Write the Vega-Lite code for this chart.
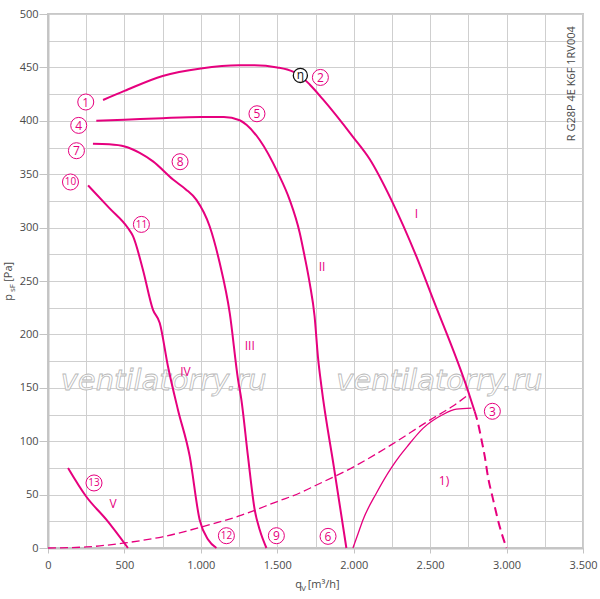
{
  "$schema": "https://vega.github.io/schema/vega-lite/v6.json",
  "width": 535,
  "height": 534,
  "autosize": {"type": "none"},
  "padding": {"left": 48, "top": 14, "right": 17, "bottom": 51},
  "background": "white",
  "config": {
    "view": {"stroke": "#c8c8c8", "strokeWidth": 2},
    "font": "Open Sans"
  },
  "datasets": {
    "curves": [
      {"c": "I", "q": 360, "p": 419.5}, {"c": "I", "q": 500, "p": 428}, {"c": "I", "q": 750, "p": 442},
      {"c": "I", "q": 1000, "p": 449}, {"c": "I", "q": 1250, "p": 452}, {"c": "I", "q": 1350, "p": 452},
      {"c": "I", "q": 1500, "p": 450}, {"c": "I", "q": 1603, "p": 446}, {"c": "I", "q": 1660, "p": 441},
      {"c": "I", "q": 1712, "p": 434}, {"c": "I", "q": 1799, "p": 420}, {"c": "I", "q": 1995, "p": 385},
      {"c": "I", "q": 2105, "p": 364}, {"c": "I", "q": 2246, "p": 326}, {"c": "I", "q": 2410, "p": 273},
      {"c": "I", "q": 2519, "p": 233}, {"c": "I", "q": 2748, "p": 147}, {"c": "I", "q": 2791, "p": 128},
      {"c": "Id", "q": 2791, "p": 128}, {"c": "Id", "q": 2813, "p": 117}, {"c": "Id", "q": 2835, "p": 102},
      {"c": "Id", "q": 2857, "p": 86}, {"c": "Id", "q": 2878, "p": 67}, {"c": "Id", "q": 2911, "p": 46},
      {"c": "Id", "q": 2955, "p": 20}, {"c": "Id", "q": 3000, "p": 0},
      {"c": "II", "q": 316, "p": 400}, {"c": "II", "q": 500, "p": 401}, {"c": "II", "q": 750, "p": 402.5},
      {"c": "II", "q": 1000, "p": 403.5}, {"c": "II", "q": 1150, "p": 403.5}, {"c": "II", "q": 1254, "p": 400.5},
      {"c": "II", "q": 1300, "p": 396}, {"c": "II", "q": 1385, "p": 382}, {"c": "II", "q": 1505, "p": 351},
      {"c": "II", "q": 1581, "p": 326}, {"c": "II", "q": 1647, "p": 295}, {"c": "II", "q": 1679, "p": 273},
      {"c": "II", "q": 1712, "p": 248}, {"c": "II", "q": 1744, "p": 217}, {"c": "II", "q": 1766, "p": 179},
      {"c": "II", "q": 1789, "p": 151}, {"c": "II", "q": 1870, "p": 76}, {"c": "II", "q": 1952, "p": 0},
      {"c": "III", "q": 294, "p": 378.5}, {"c": "III", "q": 400, "p": 378}, {"c": "III", "q": 502, "p": 376},
      {"c": "III", "q": 600, "p": 370}, {"c": "III", "q": 687, "p": 362}, {"c": "III", "q": 818, "p": 345},
      {"c": "III", "q": 900, "p": 336}, {"c": "III", "q": 971, "p": 326}, {"c": "III", "q": 1058, "p": 301},
      {"c": "III", "q": 1123, "p": 267}, {"c": "III", "q": 1189, "p": 220}, {"c": "III", "q": 1243, "p": 158},
      {"c": "III", "q": 1265, "p": 139}, {"c": "III", "q": 1308, "p": 86}, {"c": "III", "q": 1352, "p": 36},
      {"c": "III", "q": 1385, "p": 17}, {"c": "III", "q": 1429, "p": 0},
      {"c": "IV", "q": 262, "p": 339.5}, {"c": "IV", "q": 400, "p": 318.5}, {"c": "IV", "q": 523, "p": 299.6},
      {"c": "IV", "q": 556, "p": 292}, {"c": "IV", "q": 621, "p": 260.6}, {"c": "IV", "q": 687, "p": 223},
      {"c": "IV", "q": 731, "p": 210.7}, {"c": "IV", "q": 785, "p": 170}, {"c": "IV", "q": 850, "p": 129.5},
      {"c": "IV", "q": 927, "p": 86}, {"c": "IV", "q": 992, "p": 26.5}, {"c": "IV", "q": 1047, "p": 8},
      {"c": "IV", "q": 1102, "p": 0},
      {"c": "V", "q": 131, "p": 75}, {"c": "V", "q": 251, "p": 48}, {"c": "V", "q": 382, "p": 26.5},
      {"c": "V", "q": 523, "p": 0},
      {"c": "sys", "q": 0, "p": 0}, {"c": "sys", "q": 250, "p": 1}, {"c": "sys", "q": 500, "p": 4.7},
      {"c": "sys", "q": 750, "p": 10.5}, {"c": "sys", "q": 1000, "p": 19.5}, {"c": "sys", "q": 1250, "p": 30},
      {"c": "sys", "q": 1500, "p": 43.5}, {"c": "sys", "q": 1647, "p": 51.5}, {"c": "sys", "q": 1750, "p": 58.5},
      {"c": "sys", "q": 2000, "p": 76}, {"c": "sys", "q": 2250, "p": 97}, {"c": "sys", "q": 2500, "p": 120},
      {"c": "sys", "q": 2650, "p": 133}, {"c": "sys", "q": 2737, "p": 142},
      {"c": "r1", "q": 1995, "p": 0}, {"c": "r1", "q": 2030, "p": 14}, {"c": "r1", "q": 2061, "p": 26.5},
      {"c": "r1", "q": 2149, "p": 51.5}, {"c": "r1", "q": 2246, "p": 75}, {"c": "r1", "q": 2300, "p": 86},
      {"c": "r1", "q": 2350, "p": 95}, {"c": "r1", "q": 2453, "p": 112}, {"c": "r1", "q": 2584, "p": 125},
      {"c": "r1", "q": 2672, "p": 130}, {"c": "r1", "q": 2770, "p": 131}
    ],
    "circled": [
      {"t": "1", "q": 247, "p": 417.6}, {"t": "2", "q": 1782, "p": 440.6}, {"t": "3", "q": 2907, "p": 128},
      {"t": "4", "q": 201, "p": 395.7}, {"t": "5", "q": 1367, "p": 406.6}, {"t": "6", "q": 1832, "p": 10.9},
      {"t": "7", "q": 186, "p": 372}, {"t": "8", "q": 864, "p": 361.7}, {"t": "9", "q": 1494, "p": 11.5},
      {"t": "10", "q": 147, "p": 342.7}, {"t": "11", "q": 611, "p": 303}, {"t": "12", "q": 1167, "p": 11.5},
      {"t": "13", "q": 301, "p": 60.9}
    ],
    "eta": [{"t": "η", "q": 1651, "p": 442.5}],
    "roman": [
      {"t": "I", "q": 2410, "p": 313}, {"t": "II", "q": 1793, "p": 262.7}, {"t": "III", "q": 1320, "p": 188.8},
      {"t": "IV", "q": 899, "p": 165}, {"t": "V", "q": 425, "p": 41.5}, {"t": "1)", "q": 2591, "p": 63}
    ],
    "wm": [
      {"t": "ventilatorry.ru", "q": 757, "p": 148},
      {"t": "ventilatorry.ru", "q": 2560, "p": 148}
    ],
    "model": [{"t": "R G28P 4E K6F 1RV004", "q": 3426, "p": 434.7}],
    "xtitle": [{"t": "q", "q": 1618, "p": -37.6}, {"t": "[m³/h]", "q": 1699, "p": -37.6}],
    "xsub": [{"t": "V", "q": 1657, "p": -40.5}],
    "ytitle": [{"t": "p", "q": -234, "p": 231.5}, {"t": "[Pa]", "q": -234, "p": 249.3}],
    "ysub": [{"t": "sF", "q": -218, "p": 239.6}]
  },
  "encoding": {
    "x": {
      "field": "q",
      "type": "quantitative",
      "scale": {"domain": [0, 3500], "nice": false, "zero": false},
      "axis": {
        "title": null,
        "values": [0, 250, 500, 750, 1000, 1250, 1500, 1750, 2000, 2250, 2500, 2750, 3000, 3250, 3500],
        "labelExpr": "datum.value % 500 == 0 ? replace(format(datum.value, ','), ',', '.') : ''",
        "grid": true,
        "gridColor": "#cfcfcf",
        "gridWidth": 1,
        "domainColor": "#c4c4c4",
        "domainWidth": 2,
        "tickColor": "#c4c4c4",
        "tickSize": 5,
        "tickOpacity": {"condition": {"test": "datum.value % 500 == 0", "value": 1}, "value": 0},
        "labelFont": "Open Sans",
        "labelFontSize": 11,
        "labelColor": "#4a4a4a",
        "labelPadding": 6,
        "labelFlush": false,
        "labelOverlap": false
      }
    },
    "y": {
      "field": "p",
      "type": "quantitative",
      "scale": {"domain": [0, 500], "nice": false, "zero": false},
      "axis": {
        "title": null,
        "values": [0, 25, 50, 75, 100, 125, 150, 175, 200, 225, 250, 275, 300, 325, 350, 375, 400, 425, 450, 475, 500],
        "labelExpr": "datum.value % 50 == 0 ? datum.label : ''",
        "grid": true,
        "gridColor": "#cfcfcf",
        "gridWidth": 1,
        "domainColor": "#c4c4c4",
        "domainWidth": 2,
        "tickColor": "#c4c4c4",
        "tickSize": 9,
        "tickOpacity": {"condition": {"test": "datum.value % 50 == 0", "value": 1}, "value": 0},
        "labelFont": "Open Sans",
        "labelFontSize": 11,
        "labelColor": "#4a4a4a",
        "labelPadding": 1,
        "labelFlush": false,
        "labelOverlap": false
      }
    }
  },
  "layer": [
    {
      "data": {"name": "wm"},
      "mark": {"type": "text", "font": "DejaVu Sans", "fontStyle": "italic", "fontSize": 29, "align": "center", "baseline": "alphabetic", "fill": "white", "fillOpacity": 0.85, "stroke": "#b8b8b8", "strokeWidth": 0.8},
      "encoding": {"text": {"field": "t"}}
    },
    {
      "data": {"name": "curves"},
      "transform": [{"filter": "indexof(['I','II','III','IV','V'], datum.c) >= 0"}],
      "mark": {"type": "line", "color": "#e6007e", "strokeWidth": 2, "interpolate": "monotone"},
      "encoding": {"detail": {"field": "c"}}
    },
    {
      "data": {"name": "curves"},
      "transform": [{"filter": "datum.c == 'Id'"}],
      "mark": {"type": "line", "color": "#e6007e", "strokeWidth": 2, "strokeDash": [9, 5], "interpolate": "monotone"},
      "encoding": {}
    },
    {
      "data": {"name": "curves"},
      "transform": [{"filter": "datum.c == 'sys'"}],
      "mark": {"type": "line", "color": "#e6007e", "strokeWidth": 1.3, "strokeDash": [8, 4], "interpolate": "monotone"},
      "encoding": {}
    },
    {
      "data": {"name": "curves"},
      "transform": [{"filter": "datum.c == 'r1'"}],
      "mark": {"type": "line", "color": "#e6007e", "strokeWidth": 1.3, "interpolate": "monotone"},
      "encoding": {}
    },
    {
      "data": {"name": "circled"},
      "mark": {"type": "point", "shape": "circle", "size": 256, "filled": true, "fill": "white", "stroke": "#e6007e", "strokeWidth": 1, "opacity": 1}
    },
    {
      "data": {"name": "circled"},
      "mark": {"type": "text", "font": "Open Sans", "color": "#e6007e", "align": "center", "baseline": "middle", "dy": 0.5},
      "encoding": {
        "text": {"field": "t"},
        "size": {"condition": {"test": "length(datum.t) > 1", "value": 10}, "value": 12}
      }
    },
    {
      "data": {"name": "eta"},
      "mark": {"type": "point", "shape": "circle", "size": 200, "filled": true, "fill": "white", "stroke": "#111111", "strokeWidth": 1.3, "opacity": 1}
    },
    {
      "data": {"name": "eta"},
      "mark": {"type": "text", "font": "Open Sans", "fontSize": 12, "color": "#111111", "align": "center", "baseline": "middle"},
      "encoding": {"text": {"field": "t"}}
    },
    {
      "data": {"name": "roman"},
      "mark": {"type": "text", "font": "Open Sans", "fontSize": 12, "color": "#e6007e", "align": "center", "baseline": "middle"},
      "encoding": {"text": {"field": "t"}}
    },
    {
      "data": {"name": "model"},
      "mark": {"type": "text", "font": "Open Sans", "fontSize": 11, "color": "#4a4a4a", "align": "center", "baseline": "middle", "angle": 270},
      "encoding": {"text": {"field": "t"}}
    },
    {
      "data": {"name": "xtitle"},
      "mark": {"type": "text", "font": "Open Sans", "fontSize": 11, "color": "#4a4a4a", "align": "left", "baseline": "alphabetic"},
      "encoding": {"text": {"field": "t"}}
    },
    {
      "data": {"name": "xsub"},
      "mark": {"type": "text", "font": "Open Sans", "fontSize": 8, "color": "#4a4a4a", "align": "left", "baseline": "alphabetic"},
      "encoding": {"text": {"field": "t"}}
    },
    {
      "data": {"name": "ytitle"},
      "mark": {"type": "text", "font": "Open Sans", "fontSize": 11, "color": "#4a4a4a", "align": "left", "baseline": "alphabetic", "angle": 270},
      "encoding": {"text": {"field": "t"}}
    },
    {
      "data": {"name": "ysub"},
      "mark": {"type": "text", "font": "Open Sans", "fontSize": 8, "color": "#4a4a4a", "align": "left", "baseline": "alphabetic", "angle": 270},
      "encoding": {"text": {"field": "t"}}
    }
  ]
}
